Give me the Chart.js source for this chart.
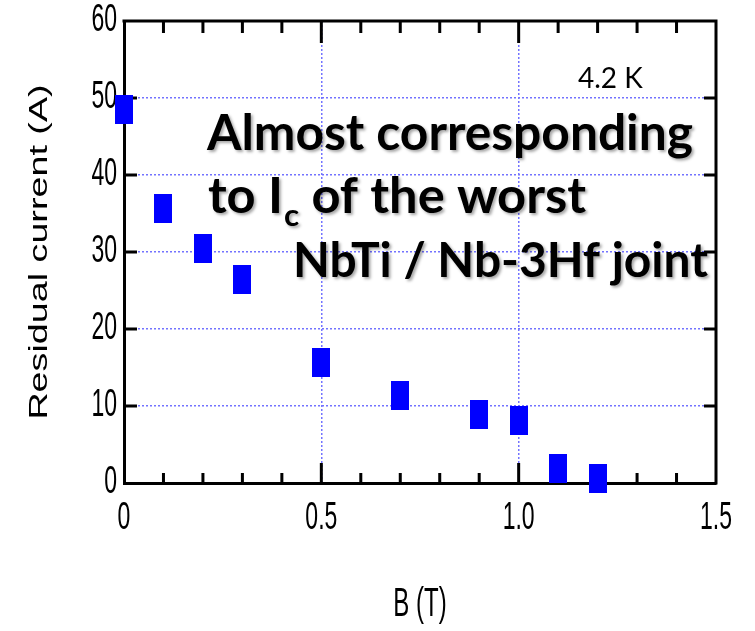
<!DOCTYPE html>
<html>
<head>
<meta charset="utf-8">
<script src="https://cdn.jsdelivr.net/npm/chart.js@4.4.1/dist/chart.umd.min.js"></script>
<style>
  html, body { margin: 0; padding: 0; background: #fff; }
  #wrap { width: 755px; height: 631px; }
</style>
</head>
<body>
<div id="wrap"><canvas id="residualChart" width="755" height="631"></canvas></div>
<script>
// data
const fieldT = [0, 0.1, 0.2, 0.3, 0.5, 0.7, 0.9, 1.0, 1.1, 1.2];
const residualA = [48.5, 35.6, 30.5, 26.4, 15.6, 11.4, 8.9, 8.1, 1.9, 0.6];
const xMajor = [0, 0.5, 1.0, 1.5];
const xMajorLabels = ["0", "0.5", "1.0", "1.5"];
const yTicks = [0, 10, 20, 30, 40, 50, 60];
const tempLabel = "4.2 K";
const noteLine1 = "Almost corresponding";
const noteLine2 = ["to I", "c", " of the worst"];
const noteLine3 = "NbTi / Nb-3Hf joint";

const gridBlue = "rgb(115, 115, 255)";
const axisFont = "'Liberation Sans', Arial, sans-serif";
const noteFont = "Lato, 'Open Sans', sans-serif";

// filled blue rectangle used as the marker
const marker = document.createElement("canvas");
marker.width = 18;
marker.height = 29;
const mctx = marker.getContext("2d");
mctx.fillStyle = "#0000ff";
mctx.fillRect(0, 0, 18, 29);

function isMajorX(v) {
    return xMajor.findIndex(m => Math.abs(m - v) < 1e-6);
}

// the original figure was stretched vertically: stretch axis text the same way
const stretchText = {
    id: "stretchText",
    beforeDraw(chart) {
        const titleStretch = { x: 1.7, y: 1.45 };
        const labelStretch = 1.65;
        ["x", "y"].forEach(id => {
            const scale = chart.scales[id];
            if (scale._stretched) return;
            const origTitle = scale.drawTitle;
            scale.drawTitle = function () {
                const t = this.options.title;
                const lh = t.font.size * 1.2;
                const cy = id === "y"
                    ? (this.top + this.bottom) / 2
                    : this.bottom - (lh / 2 + t.padding.bottom);
                const c = this.ctx;
                c.save();
                c.translate(0, cy);
                c.scale(1, titleStretch[id]);
                c.translate(0, -cy);
                origTitle.apply(this, arguments);
                c.restore();
            };
            scale.drawLabels = function (chartArea) {
                const c = this.ctx;
                this.getLabelItems(chartArea).forEach(it => {
                    if (it.label === "" || it.label == null) return;
                    const o = it.options;
                    c.save();
                    c.translate(o.translation[0], o.translation[1]);
                    c.rotate(o.rotation || 0);
                    c.translate(0, it.textOffset || 0);
                    c.scale(1, labelStretch);
                    c.font = it.font.string;
                    c.fillStyle = o.color;
                    c.textAlign = o.textAlign;
                    c.textBaseline = o.textBaseline;
                    c.fillText(it.label, 0, 0);
                    c.restore();
                });
            };
            scale._stretched = true;
        });
    }
};

// top / right frame and inward tick marks
const frame = {
    id: "frame",
    beforeDatasetsDraw(chart) {
        const { ctx, chartArea: a, scales: { x, y } } = chart;
        ctx.save();
        ctx.strokeStyle = "#000";
        ctx.lineWidth = 3;
        ctx.beginPath();
        ctx.moveTo(a.left - 1.5, a.top);
        ctx.lineTo(a.right, a.top);
        ctx.lineTo(a.right, a.bottom + 1.5);
        ctx.stroke();
        ctx.beginPath();
        x.ticks.forEach(t => {
            const px = x.getPixelForValue(t.value);
            if (px <= a.left + 2 || px >= a.right - 2) return;
            const major = isMajorX(t.value) >= 0;
            ctx.moveTo(px, a.bottom);
            ctx.lineTo(px, a.bottom - (major ? 20 : 10));
            ctx.moveTo(px, a.top);
            ctx.lineTo(px, a.top + (major ? 22 : 12));
        });
        y.ticks.forEach(t => {
            const py = y.getPixelForValue(t.value);
            if (py <= a.top + 2 || py >= a.bottom - 2) return;
            ctx.moveTo(a.left, py);
            ctx.lineTo(a.left + 13, py);
            ctx.moveTo(a.right, py);
            ctx.lineTo(a.right - 12, py);
        });
        ctx.stroke();
        ctx.restore();
    }
};

// slide annotations
const notes = {
    id: "notes",
    afterDraw(chart) {
        const ctx = chart.ctx;
        const fontAt = (s) => "bold " + s.toFixed(1) + "px " + noteFont;
        const fit = (width, text) => {
            ctx.font = fontAt(100);
            return 100 * width / ctx.measureText(text).width;
        };
        ctx.save();
        ctx.fillStyle = "#000";
        ctx.textBaseline = "alphabetic";
        ctx.font = "28px " + noteFont;
        ctx.fillText(tempLabel, 578, 88);

        ctx.shadowColor = "rgba(0, 0, 0, 0.35)";
        ctx.shadowOffsetX = 2;
        ctx.shadowOffsetY = 2;
        ctx.shadowBlur = 3;

        const s1 = fit(486, noteLine1);
        ctx.font = fontAt(s1);
        ctx.fillText(noteLine1, 207, 150);

        const s2 = fit(362, noteLine2[0] + noteLine2[2]) ;
        let xPos = 208;
        ctx.font = fontAt(s2);
        ctx.fillText(noteLine2[0], xPos, 213);
        xPos += ctx.measureText(noteLine2[0]).width + 1;
        ctx.font = fontAt(s2 * 0.62);
        ctx.fillText(noteLine2[1], xPos, 226);
        xPos += ctx.measureText(noteLine2[1]).width;
        ctx.font = fontAt(s2);
        ctx.fillText(noteLine2[2], xPos, 213);

        const s3 = fit(415, noteLine3);
        ctx.font = fontAt(s3);
        ctx.fillText(noteLine3, 293, 277);
        ctx.restore();
    }
};

new Chart(document.getElementById("residualChart").getContext("2d"), {
    type: "scatter",
    data: {
        datasets: [{
            label: "Residual current",
            data: fieldT.map((b, i) => ({ x: b, y: residualA[i] })),
            pointStyle: marker,
            clip: false,
        }],
    },
    options: {
        responsive: false,
        animation: false,
        layout: { padding: { top: 21, right: 39, left: 0, bottom: 0 } },
        plugins: {
            legend: { display: false },
            tooltip: { enabled: false },
        },
        scales: {
            x: {
                type: "linear",
                min: 0,
                max: 1.5,
                afterFit: s => { s.height = 148; },
                ticks: {
                    stepSize: 0.1,
                    autoSkip: false,
                    maxRotation: 0,
                    padding: 22,
                    color: "#000",
                    font: { family: axisFont, size: 23 },
                    callback: v => {
                        const i = isMajorX(v);
                        return i >= 0 ? xMajorLabels[i] : "";
                    },
                },
                grid: {
                    drawTicks: false,
                    lineWidth: 1.5,
                    color: c => {
                        const v = c.tick ? c.tick.value : 0;
                        return (Math.abs(v - 0.5) < 1e-6 || Math.abs(v - 1) < 1e-6) ? gridBlue : "rgba(0,0,0,0)";
                    },
                },
                border: { display: true, color: "#000", width: 3, dash: [2, 2] },
                title: {
                    display: true,
                    text: "B (T)",
                    color: "#000",
                    font: { family: axisFont, size: 24 },
                    padding: { top: 0, bottom: 12 },
                },
            },
            y: {
                type: "linear",
                min: 0,
                max: 60,
                afterFit: s => { s.width = 124; },
                afterBuildTicks: s => { s.ticks = yTicks.map(v => ({ value: v })); },
                ticks: {
                    padding: 7,
                    color: "#000",
                    font: { family: axisFont, size: 23 },
                },
                grid: {
                    drawTicks: false,
                    lineWidth: 1.5,
                    color: c => {
                        const v = c.tick ? c.tick.value : 0;
                        return (v > 0 && v < 60) ? gridBlue : "rgba(0,0,0,0)";
                    },
                },
                border: { display: true, color: "#000", width: 3, dash: [2, 2] },
                title: {
                    display: true,
                    text: "Residual current (A)",
                    color: "#000",
                    font: { family: axisFont, size: 26 },
                    padding: { top: 24, bottom: 0 },
                },
            },
        },
    },
    plugins: [stretchText, frame, notes],
});
</script>
</body>
</html>
